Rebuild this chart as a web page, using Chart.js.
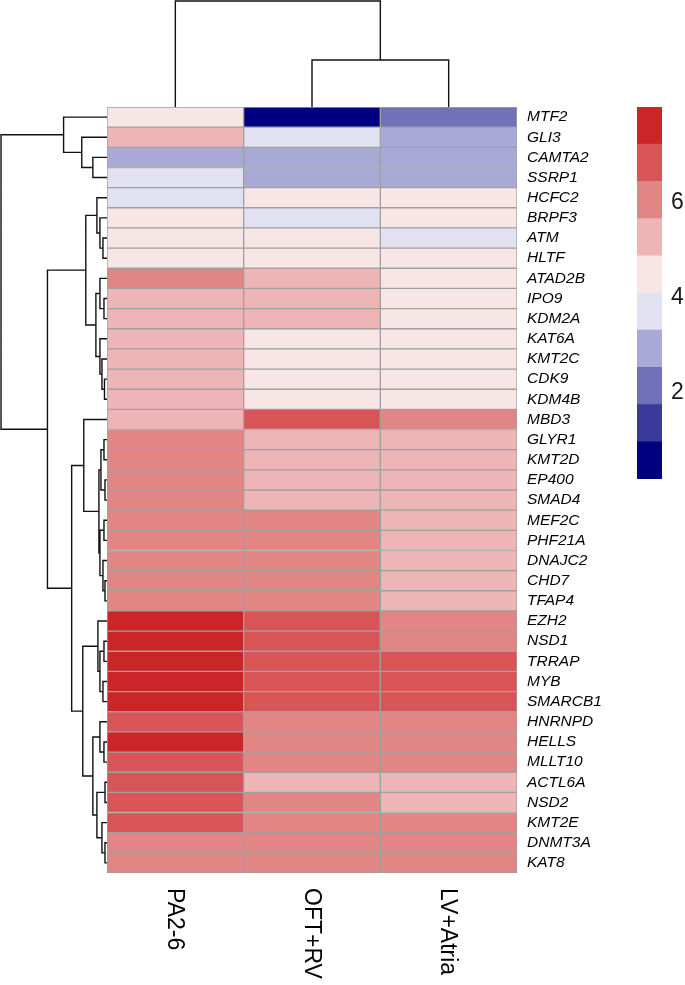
<!DOCTYPE html>
<html>
<head>
<meta charset="utf-8">
<script src="https://cdn.jsdelivr.net/npm/chart.js@4.4.1/dist/chart.umd.min.js"></script>
<style>
    html, body { margin: 0; padding: 0; background: #fff; }
    #page { position: relative; width: 685px; height: 985px; overflow: hidden; }
    .box { position: absolute; }
</style>
</head>
<body>
<div id="page">
    <div class="box" style="left:0;top:107px;width:107px;height:766px"><canvas id="rowDendro"></canvas></div>
    <div class="box" style="left:107px;top:0;width:410px;height:107px"><canvas id="colDendro"></canvas></div>
    <div class="box" style="left:107px;top:107px;width:578px;height:878px"><canvas id="heatmap"></canvas></div>
    <div class="box" style="left:637px;top:100px;width:48px;height:386px"><canvas id="legend"></canvas></div>
</div>
<script>
// ============================================================================
// DATA
// ============================================================================

const genes = ['MTF2', 'GLI3', 'CAMTA2', 'SSRP1', 'HCFC2', 'BRPF3', 'ATM', 'HLTF',
    'ATAD2B', 'IPO9', 'KDM2A', 'KAT6A', 'KMT2C', 'CDK9', 'KDM4B', 'MBD3',
    'GLYR1', 'KMT2D', 'EP400', 'SMAD4', 'MEF2C', 'PHF21A', 'DNAJC2', 'CHD7', 'TFAP4',
    'EZH2', 'NSD1', 'TRRAP', 'MYB', 'SMARCB1', 'HNRNPD', 'HELLS', 'MLLT10',
    'ACTL6A', 'NSD2', 'KMT2E', 'DNMT3A', 'KAT8'];

const samples = ['PA2-6', 'OFT+RV', 'LV+Atria'];

// one value per gene, same order as genes
const pa26Values = [4.5, 5.3, 2.9, 3.7, 3.7, 4.5, 4.4, 4.5, 6.0, 5.3, 5.2, 5.3, 5.3, 5.2, 5.3, 5.3,
    6.1, 6.0, 6.0, 5.9, 6.0, 6.1, 6.0, 5.9, 6.0, 7.6, 7.6, 7.7, 7.6, 7.6, 6.8, 7.6, 6.8,
    6.9, 6.8, 6.8, 6.0, 6.0];
const oftRvValues = [0.6, 3.7, 2.9, 2.9, 4.5, 3.7, 4.5, 4.4, 5.3, 5.3, 5.3, 4.5, 4.5, 4.4, 4.5, 6.9,
    5.3, 5.3, 5.2, 5.3, 6.0, 6.0, 6.1, 6.0, 5.9, 6.8, 6.8, 6.9, 6.8, 6.8, 6.0, 6.0, 6.1,
    5.3, 6.0, 6.0, 6.0, 6.0];
const lvAtriaValues = [2.2, 2.9, 2.9, 3.0, 4.5, 4.5, 3.7, 4.5, 4.4, 4.5, 4.5, 4.5, 4.4, 4.5, 4.5, 6.0,
    5.3, 5.3, 5.3, 5.2, 5.3, 5.3, 5.3, 5.3, 5.2, 6.0, 6.1, 6.8, 6.8, 6.9, 6.0, 6.0, 6.0,
    5.3, 5.3, 6.0, 6.1, 6.0];

// colour key
const legendBreaks = [0.2, 0.98, 1.76, 2.54, 3.32, 4.1, 4.88, 5.66, 6.44, 7.22, 8.0];
const legendColors = ['#000080', '#3a3a9c', '#7171b7', '#a9a9d5', '#e1e1f1',
    '#f8e5e6', '#eeb5b6', '#e18585', '#d75557', '#cb2627'];
const legendTicks = [2, 4, 6];

// row clustering: a string is a gene, a number is an earlier merge (1-based)
const rowMerges = [
    ['CAMTA2', 'SSRP1'], ['GLI3', 1], ['MTF2', 2],
    ['ATM', 'HLTF'], ['BRPF3', 4], ['HCFC2', 5],
    ['IPO9', 'KDM2A'], ['ATAD2B', 7], ['CDK9', 'KDM4B'], ['KMT2C', 9], ['KAT6A', 10],
    [8, 11], [6, 12],
    ['GLYR1', 'KMT2D'], ['EP400', 'SMAD4'], [14, 15],
    ['MEF2C', 'PHF21A'], ['CHD7', 'TFAP4'], ['DNAJC2', 18], [17, 19], [16, 20], ['MBD3', 21],
    ['NSD1', 'TRRAP'], ['MYB', 'SMARCB1'], [23, 24], ['EZH2', 25],
    ['HELLS', 'MLLT10'], ['HNRNPD', 27],
    ['ACTL6A', 'NSD2'], ['DNMT3A', 'KAT8'], ['KMT2E', 30], [29, 31], [28, 32],
    [26, 33], [22, 34], [13, 35], [3, 36]
];
const rowHeights = [1.4, 2.5, 4.3,
    0.4, 0.7, 1.0,
    0.3, 0.7, 0.25, 0.5, 0.7,
    1.1, 2.1,
    0.3, 0.2, 0.6,
    0.3, 0.2, 0.4, 0.7, 0.8, 2.3,
    0.3, 0.4, 0.7, 0.9,
    0.3, 0.7,
    0.2, 0.2, 0.5, 1.0, 1.4,
    2.4, 3.5, 5.9, 10.5];

// column clustering
const colMerges = [['OFT+RV', 'LV+Atria'], ['PA2-6', 1]];
const colHeights = [4.7, 10.6];

// ============================================================================
// INITIALIZATION
// ============================================================================

document.addEventListener('DOMContentLoaded', function() {
    Chart.defaults.font.family = '"Liberation Sans", Arial, sans-serif';
    Chart.defaults.animation = false;
    Chart.defaults.plugins.legend.display = false;
    Chart.defaults.plugins.tooltip.enabled = false;
    initHeatmap();
    initRowDendrogram();
    initColDendrogram();
    initLegend();
});

function colorFor(value) {
    for (let k = 0; k < legendColors.length; k++) {
        if (value < legendBreaks[k + 1]) return legendColors[k];
    }
    return legendColors[legendColors.length - 1];
}

// ============================================================================
// HEATMAP
// ============================================================================

function initHeatmap() {
    const columns = [pa26Values, oftRvValues, lvAtriaValues];

    const labelsPlugin = {
        id: 'heatLabels',
        afterDraw(chart) {
            const ctx = chart.ctx;
            const area = chart.chartArea;
            const x = chart.scales.x;
            const y = chart.scales.y;
            ctx.save();
            ctx.fillStyle = '#000';
            ctx.font = 'italic 15.5px "Liberation Sans", Arial, sans-serif';
            ctx.textAlign = 'left';
            ctx.textBaseline = 'middle';
            genes.forEach((g, i) => {
                ctx.fillText(g, area.right + 10, y.getPixelForValue(i));
            });
            ctx.font = '23px "Liberation Sans", Arial, sans-serif';
            samples.forEach((s, j) => {
                ctx.save();
                ctx.translate(x.getPixelForValue(j + 0.5) - 1, area.bottom + 15);
                ctx.rotate(Math.PI / 2);
                ctx.fillText(s, 0, 0);
                ctx.restore();
            });
            ctx.restore();
        }
    };

    new Chart(document.getElementById('heatmap'), {
        type: 'bar',
        data: {
            labels: genes,
            datasets: columns.map((vals, j) => ({
                label: samples[j],
                data: genes.map(() => 1),
                backgroundColor: ctx => colorFor(vals[ctx.dataIndex]),
                borderColor: '#a0a0a0',
                borderWidth: 1,
                borderSkipped: false,
                barPercentage: 1,
                categoryPercentage: 1
            }))
        },
        options: {
            indexAxis: 'y',
            responsive: true,
            maintainAspectRatio: false,
            layout: { padding: { right: 168, bottom: 112 } },
            scales: {
                x: { stacked: true, min: 0, max: 3, display: false },
                y: { stacked: true, display: false }
            }
        },
        plugins: [labelsPlugin]
    });
}

// ============================================================================
// DENDROGRAMS
// ============================================================================

function buildDendroPoints(merges, heights, leaves, horizontal) {
    const pos = [];
    const points = [];
    const nodePos = c => typeof c === 'string' ? leaves.indexOf(c) + 0.5 : pos[c - 1];
    const nodeHt = c => typeof c === 'string' ? 0 : heights[c - 1];

    merges.forEach((pair, i) => {
        const h = heights[i];
        const p1 = nodePos(pair[0]);
        const p2 = nodePos(pair[1]);
        pos.push((p1 + p2) / 2);
        const shape = [[nodeHt(pair[0]), p1], [h, p1], [h, p2], [nodeHt(pair[1]), p2]];
        shape.forEach(([hh, pp]) => {
            points.push(horizontal ? { x: hh, y: pp } : { x: pp, y: hh });
        });
        points.push({ x: null, y: null });
    });
    return points;
}

function dendroDataset(points) {
    return {
        data: points,
        showLine: true,
        spanGaps: false,
        borderColor: '#111',
        borderWidth: 1.4,
        pointRadius: 0,
        clip: false
    };
}

function initRowDendrogram() {
    new Chart(document.getElementById('rowDendro'), {
        type: 'scatter',
        data: { datasets: [dendroDataset(buildDendroPoints(rowMerges, rowHeights, genes, true))] },
        options: {
            responsive: true,
            maintainAspectRatio: false,
            scales: {
                x: { type: 'linear', min: 0, max: 10.6, reverse: true, display: false },
                y: { type: 'linear', min: 0, max: genes.length, reverse: true, display: false }
            }
        }
    });
}

function initColDendrogram() {
    new Chart(document.getElementById('colDendro'), {
        type: 'scatter',
        data: { datasets: [dendroDataset(buildDendroPoints(colMerges, colHeights, samples, false))] },
        options: {
            responsive: true,
            maintainAspectRatio: false,
            scales: {
                x: { type: 'linear', min: 0, max: samples.length, display: false },
                y: { type: 'linear', min: 0, max: 10.7, display: false }
            }
        }
    });
}

// ============================================================================
// COLOUR KEY
// ============================================================================

function initLegend() {
    const datasets = legendColors.map((c, k) => ({
        data: [[legendBreaks[k], legendBreaks[k + 1]]],
        backgroundColor: c,
        borderWidth: 0,
        grouped: false,
        barPercentage: 1,
        categoryPercentage: 1
    }));

    // tick labels drawn next to the bar, at the key scale's own positions
    const keyTicksPlugin = {
        id: 'keyTicks',
        afterDraw(chart) {
            const ctx = chart.ctx;
            const y = chart.scales.y;
            ctx.save();
            ctx.fillStyle = '#1a1a1a';
            ctx.font = '23px "Liberation Sans", Arial, sans-serif';
            ctx.textAlign = 'left';
            ctx.textBaseline = 'middle';
            legendTicks.forEach(v => {
                ctx.fillText(String(v), chart.chartArea.right + 9, y.getPixelForValue(v));
            });
            ctx.restore();
        }
    };

    new Chart(document.getElementById('legend'), {
        type: 'bar',
        data: { labels: [''], datasets: datasets },
        options: {
            responsive: true,
            maintainAspectRatio: false,
            layout: { padding: { top: 7, bottom: 7, right: 23 } },
            scales: {
                x: { display: false },
                y: {
                    display: false,
                    min: legendBreaks[0],
                    max: legendBreaks[legendBreaks.length - 1]
                }
            }
        },
        plugins: [keyTicksPlugin]
    });
}
</script>
</body>
</html>
